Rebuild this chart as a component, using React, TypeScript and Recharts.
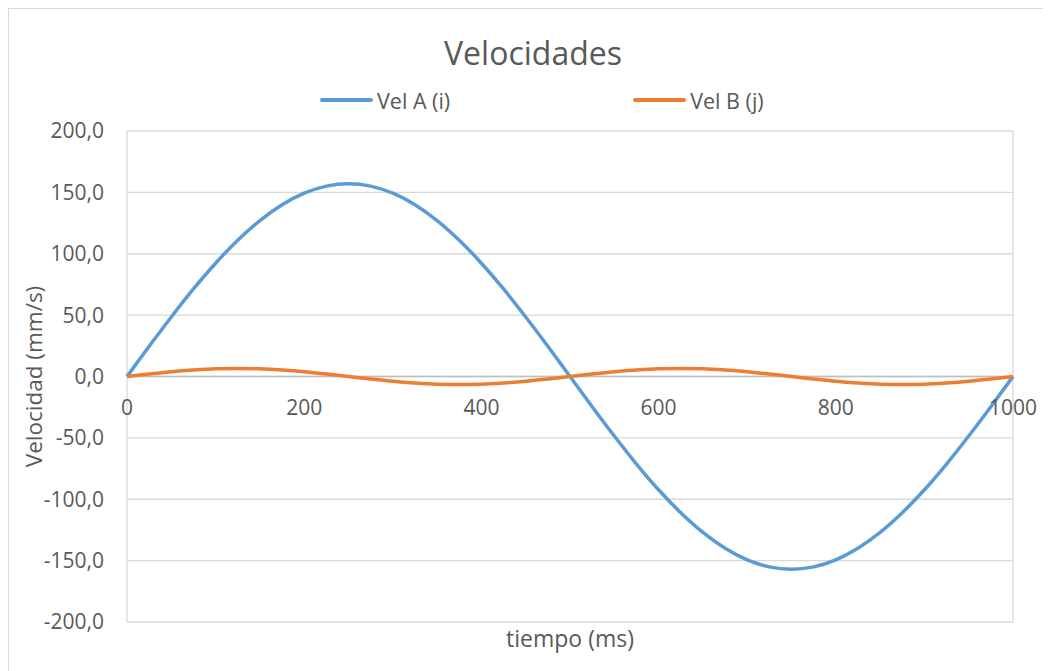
import React from 'react';
import {
  LineChart,
  Line,
  XAxis,
  YAxis,
  CartesianGrid,
  ReferenceLine,
  ReferenceDot,
  Legend,
} from 'recharts';

const times = [
  0, 25, 50, 75, 100, 125, 150, 175, 200, 225, 250, 275, 300, 325, 350, 375, 400, 425, 450, 475, 500,
  525, 550, 575, 600, 625, 650, 675, 700, 725, 750, 775, 800, 825, 850, 875, 900, 925, 950, 975, 1000,
];
const velA = [
  0, 24.6, 48.5, 71.3, 92.3, 111.0, 127.0, 139.9, 149.3, 155.1, 157.0, 155.1, 149.3, 139.9, 127.0, 111.0,
  92.3, 71.3, 48.5, 24.6, 0, -24.6, -48.5, -71.3, -92.3, -111.0, -127.0, -139.9, -149.3, -155.1, -157.0,
  -155.1, -149.3, -139.9, -127.0, -111.0, -92.3, -71.3, -48.5, -24.6, 0,
];
const velB = [
  0, 2.0, 3.9, 5.3, 6.3, 6.6, 6.3, 5.3, 3.9, 2.0, 0, -2.0, -3.9, -5.3, -6.3, -6.6, -6.3, -5.3, -3.9, -2.0,
  0, 2.0, 3.9, 5.3, 6.3, 6.6, 6.3, 5.3, 3.9, 2.0, 0, -2.0, -3.9, -5.3, -6.3, -6.6, -6.3, -5.3, -3.9, -2.0, 0,
];
const xTicks = [0, 200, 400, 600, 800, 1000];
const yTicks = [-200, -150, -100, -50, 0, 50, 100, 150, 200];
const seriesNames = ['Vel A (i)', 'Vel B (j)'];
const seriesColors = ['#5B9BD5', '#ED7D31'];

const data = times.map((t, i) => ({ t, a: velA[i], b: velB[i] }));

const TEXT = '#595959';
const FONT = "'Open Sans', sans-serif";
const W = 1042;
const H = 662;

const fmt = (v: number) => v.toFixed(1).replace('.', ',');

const LegendContent = () => (
  <div
    style={{
      display: 'flex',
      alignItems: 'center',
      paddingLeft: 311,
      height: 26,
      fontFamily: FONT,
      fontSize: 21.5,
      color: TEXT,
    }}
  >
    {seriesNames.map((n, i) => (
      <div key={n} style={{ display: 'flex', alignItems: 'center', marginRight: i === 0 ? 183 : 0 }}>
        <div style={{ width: 53, height: 3.5, background: seriesColors[i], borderRadius: 2, marginRight: 4 }} />
        <span>{n}</span>
      </div>
    ))}
  </div>
);

export default function App() {
  return (
    <div
      style={{
        position: 'relative',
        width: W,
        height: H,
        borderTop: '1px solid #d9d9d9',
        borderLeft: '1px solid #d9d9d9',
        background: '#fff',
        fontFamily: FONT,
      }}
    >
      <style>{`html,body{overflow:hidden;}`}</style>
      <div
        style={{
          position: 'absolute',
          top: 24,
          left: 0,
          width: W + 6,
          textAlign: 'center',
          fontSize: 32,
          color: TEXT,
          lineHeight: '40px',
        }}
      >
        Velocidades
      </div>
      <LineChart width={W} height={H} data={data} margin={{ top: 122, right: 38, bottom: 9, left: 0 }}>
        <CartesianGrid stroke="#d9d9d9" strokeWidth={1.3} />
        <XAxis
          dataKey="t"
          type="number"
          domain={[0, 1000]}
          ticks={xTicks}
          tick={false}
          axisLine={false}
          tickLine={false}
          height={40}
          label={{
            content: (props: any) => {
              const vb = props.viewBox || {};
              return (
                <text
                  x={vb.x + vb.width / 2}
                  y={vb.y + 16}
                  textAnchor="middle"
                  dominantBaseline="central"
                  fill={TEXT}
                  fontSize={23}
                >
                  tiempo (ms)
                </text>
              );
            },
          }}
        />
        <YAxis
          type="number"
          domain={[-200, 200]}
          ticks={yTicks}
          tickFormatter={fmt}
          width={118}
          axisLine={false}
          tickLine={false}
          tickSize={0}
          tickMargin={23}
          tick={{ fill: TEXT, fontSize: 21 }}
          label={{
            content: (props: any) => {
              const vb = props.viewBox || {};
              const cx = 24;
              const cy = vb.y + vb.height / 2;
              return (
                <text
                  x={cx}
                  y={cy}
                  transform={`rotate(-90, ${cx}, ${cy})`}
                  textAnchor="middle"
                  dominantBaseline="central"
                  fill={TEXT}
                  fontSize={22.5}
                >
                  Velocidad (mm/s)
                </text>
              );
            },
          }}
        />
        <ReferenceLine y={0} stroke="#bfbfbf" strokeWidth={1.6} />
        {xTicks.map((v) => (
          <ReferenceDot
            key={v}
            x={v}
            y={0}
            r={0}
            fill="none"
            stroke="none"
            label={{ value: String(v), position: 'bottom', offset: 24, fill: TEXT, fontSize: 21 }}
          />
        ))}
        <Legend
          verticalAlign="middle"
          align="center"
          content={<LegendContent />}
          wrapperStyle={{ top: 78, left: 0, width: W }}
        />
        <Line
          type="monotone"
          dataKey="a"
          name={seriesNames[0]}
          stroke={seriesColors[0]}
          strokeWidth={3.5}
          dot={false}
          activeDot={false}
          isAnimationActive={false}
        />
        <Line
          type="monotone"
          dataKey="b"
          name={seriesNames[1]}
          stroke={seriesColors[1]}
          strokeWidth={3.5}
          dot={false}
          activeDot={false}
          isAnimationActive={false}
        />
      </LineChart>
    </div>
  );
}
